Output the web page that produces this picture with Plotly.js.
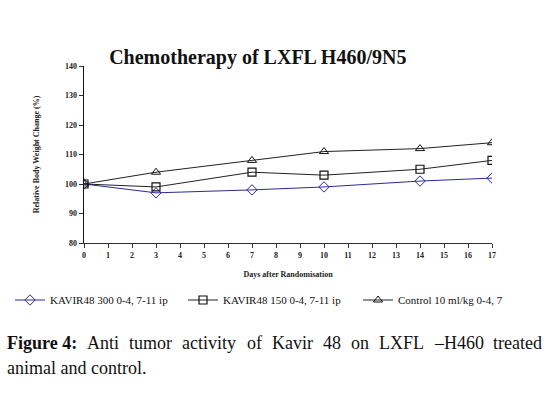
<!DOCTYPE html>
<html><head><meta charset="utf-8">
<script src="https://cdn.plot.ly/plotly-3.0.1.min.js"></script>
<style>html,body{margin:0;padding:0;background:#fff;}#chart{width:545px;height:396px;}</style>
</head><body><div id="chart"></div>
<script>
const days = [0, 3, 7, 10, 14, 17];
const kavir300 = [100, 97, 98, 99, 101, 102];
const kavir150 = [100, 99, 104, 103, 105, 108];
const control = [100, 104, 108, 111, 112, 114];
const seriesNames = ["KAVIR48 300 0-4, 7-11 ip", "KAVIR48 150 0-4, 7-11 ip", "Control 10 ml/kg 0-4, 7"];
const xTicks = [0,1,2,3,4,5,6,7,8,9,10,11,12,13,14,15,16,17];
const yTicks = [80, 90, 100, 110, 120, 130, 140];
const captionLine1 = ["Figure 4:", "Anti", "tumor", "activity", "of", "Kavir", "48", "on", "LXFL", "–H460", "treated"];
const captionLine2 = "animal and control.";

const serif = "Liberation Serif, Times New Roman, serif";
const traces = [
  {x: days, y: kavir300, name: seriesNames[0], mode: "lines+markers", legend: "legend",
   line: {color: "#2a2a9c", width: 1}, marker: {symbol: "diamond-open", size: 8, color: "#2a2a9c", line:{width:1}}},
  {x: days, y: kavir150, name: seriesNames[1], mode: "lines+markers", legend: "legend2",
   line: {color: "#222", width: 1}, marker: {symbol: "square-open", size: 8, color: "#111", line:{width:1.2}}},
  {x: days, y: control, name: seriesNames[2], mode: "lines+markers", legend: "legend3",
   line: {color: "#222", width: 1}, marker: {symbol: "triangle-up-open", size: 8, color: "#111", line:{width:1}}}
];

const ctx = document.createElement("canvas").getContext("2d");
const capSize = 18;
function w(t, bold){ ctx.font = (bold?"bold ":"") + capSize + "px " + serif; return ctx.measureText(t).width; }
const left = 5, right = 540;
const widths = captionLine1.map((t,i)=>w(t, i===0));
const total = widths.reduce((a,b)=>a+b,0);
const gap = (right-left-total)/(captionLine1.length-1);
const annotations = [];
let cx = left;
captionLine1.forEach((t,i)=>{
  annotations.push({xref:"paper", yref:"paper", x:(cx-84)/408, y:(396-343-153)/177,
    text: i===0 ? "<b>"+t+"</b>" : t, showarrow:false, xanchor:"left", yanchor:"middle",
    font:{family:serif, size:capSize, color:"#111"}});
  cx += widths[i] + gap;
});
annotations.push({xref:"paper", yref:"paper", x:(left-84)/408, y:(396-368-153)/177,
  text: captionLine2, showarrow:false, xanchor:"left", yanchor:"middle",
  font:{family:serif, size:capSize, color:"#111"}});

function leg(px){
  return {orientation: "h", xref: "container", yref: "container", x: px/545, xanchor: "left",
          y: (396-300)/396, yanchor: "middle",
          font: {family: serif, size: 11, color: "#111"}, itemwidth: 30,
          bgcolor: "rgba(0,0,0,0)", borderwidth: 0};
}

const layout = {
  width: 545, height: 396,
  margin: {l: 84, r: 53, t: 66, b: 153, autoexpand: false},
  paper_bgcolor: "#fff", plot_bgcolor: "#fff",
  showlegend: true,
  title: {text: "<b>Chemotherapy of LXFL H460/9N5</b>", x: 0.473, xanchor: "center", y: 0.855, yanchor: "middle",
          font: {family: serif, size: 20, color: "#111"}},
  xaxis: {range: [0, 17], tickvals: xTicks, ticktext: xTicks.map(String), ticks: "outside", ticklen: 4,
          tickcolor: "#333", showline: true, linecolor: "#333", linewidth: 1, showgrid: false, zeroline: false,
          tickfont: {family: serif, size: 8, color: "#222", weight: "bold"},
          title: {text: "<b>Days after Randomisation</b>", standoff: 12, font: {family: serif, size: 8, color: "#222"}}},
  yaxis: {range: [80, 140], tickvals: yTicks, ticks: "outside", ticklen: 4, tickcolor: "#333",
          showline: true, linecolor: "#111", linewidth: 1.5, showgrid: false, zeroline: false,
          tickfont: {family: serif, size: 8, color: "#222", weight: "bold"},
          title: {text: "<b>Relative Body Weight Change (%)</b>", standoff: 24, font: {family: serif, size: 8, color: "#222"}}},
  legend: leg(10),
  legend2: leg(183),
  legend3: leg(358),
  annotations: annotations
};
Plotly.newPlot("chart", traces, layout, {displayModeBar: false, staticPlot: true});
</script></body></html>
